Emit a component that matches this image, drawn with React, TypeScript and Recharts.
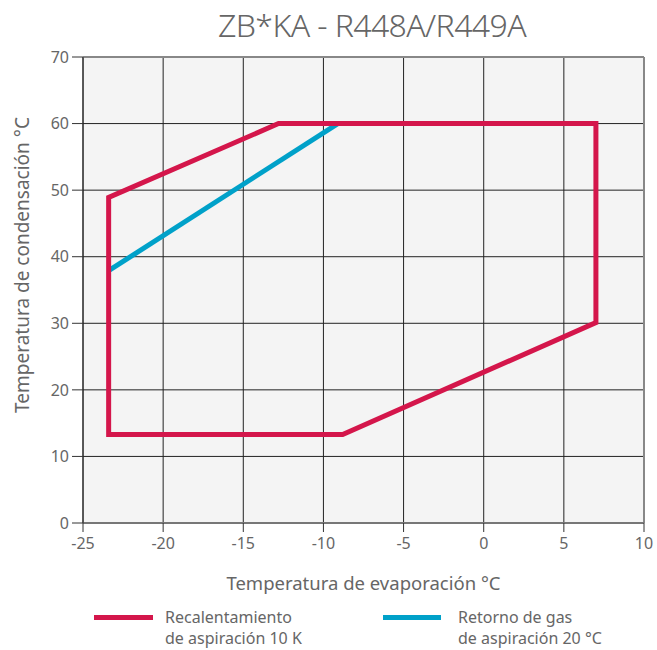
import React from "react";
import { ComposedChart, Line, XAxis, YAxis, CartesianGrid, ReferenceLine } from "recharts";

const xTicks = [-25, -20, -15, -10, -5, 0, 5, 10];
const yTicks = [0, 10, 20, 30, 40, 50, 60, 70];

const recalentamiento10K = [
  { x: -23.4, y: 13.3 },
  { x: -23.4, y: 48.9 },
  { x: -12.8, y: 60 },
  { x: 7.0, y: 60 },
  { x: 7.0, y: 30.1 },
  { x: -8.8, y: 13.3 },
  { x: -23.4, y: 13.3 },
];

const retornoGas20C = [
  { x: -23.4, y: 37.9 },
  { x: -9.1, y: 60 },
];

const RED = "#d4164b";
const BLUE = "#00a1c9";
const TEXT = "#666666";
const FONT = "'Noto Sans', 'Open Sans', sans-serif";

export default function App() {
  return (
    <div style={{ position: "absolute", left: 0, top: 0, width: 657, height: 650, background: "#fff", fontFamily: FONT }}>
      <div style={{ position: "absolute", left: 72, width: 600, top: 3, textAlign: "center", fontSize: 32, color: TEXT, fontWeight: 300, letterSpacing: -0.6 }}>
        ZB*KA - R448A/R449A
      </div>
      <ComposedChart width={657} height={650} margin={{ top: 57, right: 13, left: 0, bottom: 0 }}>
        <CartesianGrid fill="#f4f4f4" stroke="#222" strokeWidth={1} />
        <XAxis
          type="number"
          dataKey="x"
          domain={[-25, 10]}
          ticks={xTicks}
          interval={0}
          height={127}
          tick={{ fill: TEXT, fontSize: 16, fontFamily: FONT }}
          tickLine={{ stroke: "#333" }}
          tickSize={9}
          tickMargin={6}
          axisLine={{ stroke: "#777", strokeWidth: 2 }}
          allowDataOverflow
          label={{ value: "Temperatura de evaporación °C", position: "insideTop", offset: 54, fill: TEXT, fontSize: 18.5, fontFamily: FONT }}
        />
        <YAxis
          type="number"
          dataKey="y"
          domain={[0, 70]}
          ticks={yTicks}
          interval={0}
          width={83}
          tick={{ fill: TEXT, fontSize: 16, fontFamily: FONT }}
          tickLine={{ stroke: "#333" }}
          tickSize={11}
          tickMargin={3}
          axisLine={{ stroke: "#222" }}
          allowDataOverflow
          label={{ value: "Temperatura de condensación °C", angle: -90, position: "insideLeft", offset: 22, dy: -25, fill: TEXT, fontSize: 19, fontFamily: FONT, style: { textAnchor: "middle" } }}
        />
        <ReferenceLine y={70} stroke="#888" strokeWidth={2} />
        <ReferenceLine x={10} stroke="#888" strokeWidth={2} />
        <Line
          data={retornoGas20C}
          dataKey="y"
          stroke={BLUE}
          strokeWidth={5}
          dot={false}
          activeDot={false}
          isAnimationActive={false}
          type="linear"
        />
        <Line
          data={recalentamiento10K}
          dataKey="y"
          stroke={RED}
          strokeWidth={5}
          dot={false}
          activeDot={false}
          isAnimationActive={false}
          type="linear"
          strokeLinejoin="miter"
          strokeLinecap="square"
        />
      </ComposedChart>
      <div style={{ position: "absolute", left: 94, top: 615, width: 59, height: 5, background: RED }} />
      <div style={{ position: "absolute", left: 165, top: 607, fontSize: 16, lineHeight: "21px", color: TEXT }}>
        Recalentamiento<br />de aspiración 10 K
      </div>
      <div style={{ position: "absolute", left: 383, top: 615, width: 58, height: 5, background: BLUE }} />
      <div style={{ position: "absolute", left: 458, top: 607, fontSize: 16, lineHeight: "21px", color: TEXT }}>
        Retorno de gas<br />de aspiración 20 °C
      </div>
    </div>
  );
}
